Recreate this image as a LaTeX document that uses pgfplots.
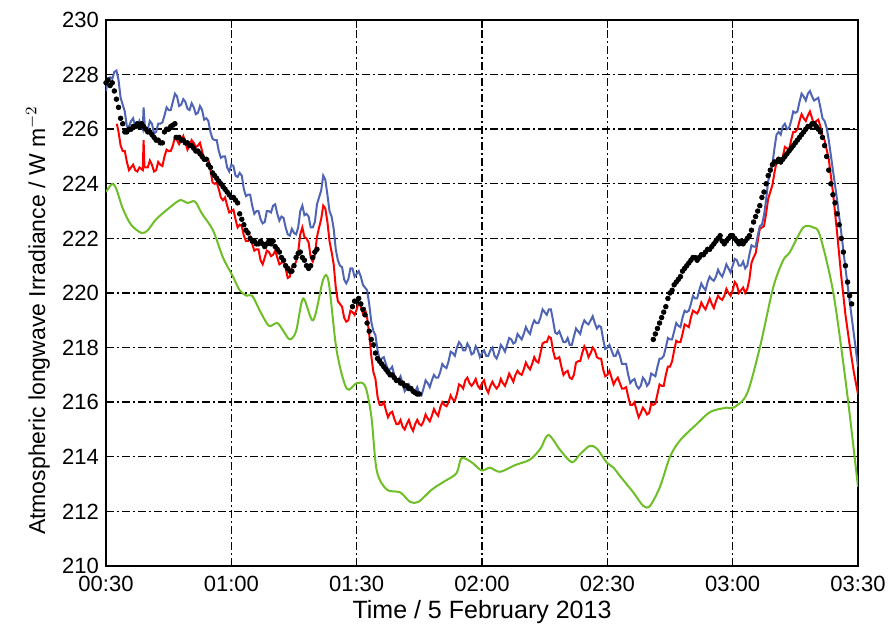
\documentclass[border=0pt]{standalone}
\usepackage{fontspec}
\setmainfont{Liberation Sans}
\usepackage{pgfplots}
\pgfplotsset{compat=1.18}
\definecolor{cblue}{RGB}{80,100,180}
\definecolor{cred}{RGB}{255,0,0}
\definecolor{cgreen}{RGB}{110,190,40}
\begin{document}
\begin{tikzpicture}
\path[use as bounding box] (-53pt,-33pt) rectangle (392pt,283pt);
\begin{axis}[
  at={(0,0)}, anchor=south west,
  scale only axis, width=376pt, height=273pt,
  xmin=30, xmax=210, ymin=210, ymax=230,
  xtick={30,60,90,120,150,180,210},
  xticklabels={00:30,01:00,01:30,02:00,02:30,03:00,03:30},
  ytick={210,212,...,230},
  tick align=inside,
  major tick length=4pt,
  grid=major,
  major grid style={black, line width=0.7pt, dash pattern=on 4pt off 1.5pt on 1pt off 1.5pt},
  axis line style={black, line width=0.8pt},
  every tick/.style={black, line width=0.6pt},
  /pgf/number format/assume math mode=true,
  /pgf/number format/1000 sep={},
  tick label style={font=\fontsize{11}{13}\selectfont},
  xticklabel style={yshift=-1.5pt},
  xlabel style={font=\fontsize{12.5}{15}\selectfont, at={(axis description cs:0.5,-0.084)}, anchor=center},
  ylabel style={font=\fontsize{11.5}{14}\selectfont, at={(axis description cs:-0.0904,0.45)}, anchor=center},
  xlabel={Time / 5 February 2013},
  ylabel={Atmospheric longwave Irradiance / W m$^{-2}$},
]
% green
\addplot[cgreen, line width=1pt, smooth] coordinates {
(30,223.7)(31.5,224.0)(32.5,223.8)(34,223.1)(36,222.5)(38.5,222.2)(40,222.3)(42,222.7)(45,223.1)(47.7,223.4)(49.5,223.3)(51.3,223.35)(53,222.9)(55.6,222.3)(58,221.3)(60.4,220.6)(62,220.1)(63.7,219.9)(65,219.9)(67,219.3)(69,218.8)(71,218.9)(72.5,218.6)(74,218.3)(75.5,218.6)(77.2,219.8)(79.6,219.0)(82,220.5)(83.3,220.4)(85.2,217.9)(87.6,216.5)(90,216.7)(92,216.6)(93.5,215.5)(94.8,213.5)(97.2,212.8)(100.4,212.7)(102.8,212.35)(104.8,212.35)(108,212.8)(111,213.1)(113.9,213.4)(115.1,213.95)(117.5,213.8)(119.9,213.5)(121.9,213.6)(124.3,213.45)(128,213.7)(131.5,213.9)(134,214.3)(135.9,214.8)(138.7,214.25)(141.5,213.8)(143.5,214.1)(145.8,214.4)(147.5,214.3)(149.8,213.8)(151.5,213.6)(153,213.3)(156.2,212.7)(158.6,212.2)(160.2,212.2)(162.6,212.9)(165,214.0)(167.4,214.6)(171.4,215.2)(174.7,215.65)(178.6,215.8)(180.2,215.8)(183.4,216.3)(186.5,218.0)(189.7,220.2)(192.1,221.2)(193.7,221.5)(196.9,222.4)(199.3,222.4)(200.9,222.1)(204.1,220.0)(207.3,216.45)(210,212.9)
};
% red
\addplot[cred, line width=1pt] coordinates {
(32.6,226.2)(33,225.9)(33.5,225.4)(34,225.2)(34.5,225.2)(35,224.8)(35.5,224.5)(36,224.6)(36.5,224.7)(37,224.5)(37.5,224.45)(38,224.6)(38.8,224.5)(39,225.6)(39.2,224.6)(40,224.6)(40.5,224.85)(41,224.7)(41.5,224.45)(42,224.5)(42.5,224.8)(43,224.7)(43.5,224.65)(44,225.0)(44.5,225.25)(45,225.2)(45.5,225.2)(46,225.4)(46.5,225.7)(47,225.6)(47.5,225.45)(48,225.6)(48.5,225.75)(49,225.5)(49.5,225.25)(50,225.4)(50.5,225.6)(51,225.5)(51.5,225.35)(52,225.4)(52.5,225.5)(53,225.2)(53.5,224.9)(54,224.9)(54.5,224.9)(55,224.5)(55.5,224.05)(56,224.0)(56.5,224.05)(57,223.8)(57.5,223.5)(58,223.4)(58.5,223.5)(59,223.2)(59.5,222.95)(60,223.0)(60.5,223.05)(61,222.7)(61.5,222.4)(62,222.5)(62.5,222.45)(63,222.1)(63.5,221.9)(64,221.9)(64.5,222.05)(65,221.8)(65.5,221.55)(66,221.6)(66.5,221.6)(67,221.2)(67.5,221.05)(68,221.3)(68.5,221.55)(69,221.5)(69.5,221.35)(70,221.4)(70.5,221.55)(71,221.3)(71.5,221.05)(72,221.1)(72.5,221.2)(73,220.9)(73.5,220.55)(74,220.6)(74.5,220.95)(75,221.0)(75.5,221.15)(76,221.5)(76.5,222.15)(77,222.4)(77.5,222.05)(78,222.0)(78.5,221.85)(79,221.3)(79.5,221.15)(80,221.4)(80.5,222.05)(81,222.4)(81.5,222.7)(82,223.2)(82.5,223.1)(83,222.6)(83.5,221.9)(84,221.5)(84.5,221.05)(85,220.2)(85.5,219.7)(86,219.6)(86.5,219.5)(87,219.1)(87.5,218.95)(88,219.0)(88.5,219.35)(89,219.3)(89.5,219.2)(90,219.4)(90.5,219.65)(91,219.5)(91.5,219.25)(92,219.4)(92.5,219.1)(93,218.5)(93.5,217.7)(94,217.1)(94.5,216.85)(95,216.2)(95.5,215.9)(96,215.9)(96.5,216.0)(97,215.7)(97.5,215.45)(98,215.6)(98.5,215.65)(99,215.4)(99.5,215.2)(100,215.2)(100.5,215.35)(101,215.1)(101.5,215.0)(102,215.2)(102.5,215.35)(103,215.1)(103.5,214.95)(104,215.2)(104.5,215.35)(105,215.2)(105.5,215.15)(106,215.3)(106.5,215.55)(107,215.4)(107.5,215.3)(108,215.5)(108.5,215.75)(109,215.6)(109.5,215.5)(110,215.8)(110.5,216.0)(111,215.9)(111.5,215.85)(112,216.0)(112.5,216.25)(113,216.1)(113.5,216.05)(114,216.3)(114.5,216.65)(115,216.6)(115.5,216.5)(116,216.8)(116.5,216.9)(117,216.7)(117.5,216.6)(118,216.7)(118.5,216.85)(119,216.6)(119.5,216.5)(120,216.7)(120.5,216.8)(121,216.5)(121.5,216.35)(122,216.6)(122.5,216.75)(123,216.6)(123.5,216.5)(124,216.6)(124.5,216.85)(125,216.7)(125.5,216.6)(126,216.8)(126.5,217.05)(127,216.9)(127.5,216.75)(128,217.0)(128.5,217.15)(129,217.05)(129.5,217.0)(130,217.2)(130.5,217.45)(131,217.3)(131.5,217.2)(132,217.4)(132.5,217.65)(133,217.5)(133.5,217.45)(134,217.8)(134.5,218.15)(135,218.2)(135.5,218.2)(136,218.4)(136.5,218.35)(137,217.9)(137.5,217.6)(138,217.6)(138.5,217.65)(139,217.3)(139.5,217.0)(140,217.1)(140.5,217.15)(141,216.9)(141.5,216.85)(142,217.0)(142.5,217.45)(143,217.5)(143.5,217.5)(144,217.8)(144.5,218.05)(145,217.9)(145.5,217.65)(146,217.8)(146.5,218.0)(147,217.9)(147.5,217.65)(148,217.6)(148.5,217.6)(149,217.2)(149.5,216.95)(150,217.0)(150.5,217.15)(151,216.9)(151.5,216.65)(152,216.8)(152.5,216.9)(153,216.7)(153.5,216.5)(154,216.5)(154.5,216.55)(155,216.2)(155.5,215.9)(156,215.9)(156.5,216.0)(157,215.7)(157.5,215.45)(158,215.6)(158.5,215.8)(159,215.7)(159.5,215.55)(160,215.6)(160.5,215.95)(161,215.9)(161.5,215.95)(162,216.3)(162.5,216.65)(163,216.6)(163.5,216.6)(164,217.0)(164.5,217.3)(165,217.3)(165.5,217.5)(166,217.9)(166.5,218.25)(167,218.2)(167.5,218.2)(168,218.5)(168.5,218.85)(169,218.8)(169.5,218.75)(170,219.1)(170.5,219.35)(171,219.3)(171.5,219.25)(172,219.4)(172.5,219.65)(173,219.5)(173.5,219.4)(174,219.6)(174.5,219.8)(175,219.6)(175.5,219.45)(176,219.7)(176.5,219.9)(177,219.8)(177.5,219.75)(178,219.9)(178.5,220.15)(179,220.0)(179.5,219.9)(180,220.1)(180.5,220.4)(181,220.3)(181.5,220.0)(182,220.1)(182.5,220.2)(183,220.0)(183.5,220.15)(184,220.5)(184.5,221.1)(185,221.3)(185.5,221.45)(186,221.9)(186.5,222.35)(187,222.4)(187.5,222.45)(188,222.9)(188.5,223.45)(189,223.7)(189.5,223.95)(190,224.4)(190.5,224.8)(191,224.8)(191.5,224.75)(192,225.0)(192.5,225.35)(193,225.3)(193.5,225.25)(194,225.6)(194.5,225.9)(195,225.9)(195.5,226.0)(196,226.3)(196.5,226.55)(197,226.4)(197.5,226.3)(198,226.5)(198.5,226.65)(199,226.4)(199.5,226.15)(200,226.3)(200.5,226.35)(201,226.1)(201.5,225.75)(202,225.6)(203,224.9)(204,223.7)(205,222.2)(206,220.6)(207,219.2)(208,218.1)(209,217.1)(210,216.3)
};
% blue
\addplot[cblue, line width=1pt] coordinates {
(30,227.4)(30.5,227.85)(31,227.9)(31.5,227.85)(32,228.1)(32.5,228.15)(33,227.8)(33.5,227.15)(34,226.9)(34.5,226.65)(35,226.1)(35.5,226.1)(36,226.3)(36.5,226.4)(37,226.1)(37.5,226.05)(38,226.3)(38.8,226.0)(39,226.8)(39.3,226.1)(40,226.0)(40.5,226.3)(41,226.2)(41.5,225.85)(42,225.9)(42.5,226.2)(43,226.2)(43.5,226.25)(44,226.5)(44.5,226.8)(45,226.7)(45.5,226.7)(46,227.0)(46.5,227.3)(47,227.2)(47.5,226.85)(48,226.9)(48.5,227.1)(49,227.0)(49.5,226.75)(50,226.7)(50.5,226.95)(51,226.8)(51.5,226.55)(52,226.6)(52.5,226.85)(53,226.7)(53.5,226.35)(54,226.4)(54.5,226.3)(55,225.9)(55.5,225.65)(56,225.6)(56.5,225.6)(57,225.2)(57.5,224.95)(58,225.0)(58.5,225.0)(59,224.6)(59.5,224.45)(60,224.7)(60.5,224.65)(61,224.3)(61.5,224.25)(62,224.4)(62.5,224.3)(63,223.8)(63.5,223.55)(64,223.6)(64.5,223.6)(65,223.2)(65.5,222.9)(66,223.0)(66.5,223.0)(67,222.7)(67.5,222.55)(68,222.6)(68.5,223.0)(69,223.0)(69.5,222.95)(70,223.2)(70.5,223.25)(71,222.9)(71.5,222.65)(72,222.8)(72.5,222.75)(73,222.4)(73.5,222.15)(74,222.1)(74.5,222.35)(75,222.2)(75.5,222.15)(76,222.4)(76.5,223.0)(77,223.2)(77.5,222.85)(78,222.9)(78.5,222.8)(79,222.4)(79.5,222.4)(80,222.6)(80.5,223.25)(81,223.5)(81.5,223.75)(82,224.3)(82.5,224.15)(83,223.6)(83.5,223.0)(84,222.8)(84.5,222.35)(85,221.6)(85.5,221.2)(86,221.0)(86.5,220.95)(87,220.5)(87.5,220.35)(88,220.5)(88.5,220.9)(89,220.9)(89.5,220.6)(90,220.7)(90.5,220.8)(91,220.6)(91.5,220.3)(92,220.2)(92.5,220.1)(93,219.6)(93.5,218.95)(94,218.6)(94.5,218.45)(95,217.9)(95.5,217.55)(96,217.6)(96.5,217.65)(97,217.4)(97.5,217.2)(98,217.2)(98.5,217.3)(99,217.0)(99.5,216.75)(100,216.8)(100.5,216.95)(101,216.7)(101.5,216.4)(102,216.5)(102.5,216.65)(103,216.5)(103.5,216.35)(104,216.4)(104.5,216.55)(105,216.3)(105.5,216.25)(106,216.5)(106.5,216.8)(107,216.7)(107.5,216.55)(108,216.8)(108.5,217.0)(109,216.9)(109.5,216.9)(110,217.1)(110.5,217.4)(111,217.3)(111.5,217.25)(112,217.5)(112.5,217.85)(113,217.8)(113.5,217.7)(114,218.0)(114.5,218.2)(115,218.1)(115.5,217.9)(116,217.9)(116.5,218.15)(117,218.0)(117.5,217.75)(118,217.8)(118.5,218.05)(119,217.9)(119.5,217.65)(120,217.8)(120.5,217.9)(121,217.7)(121.5,217.7)(122,217.9)(122.5,218.0)(123,217.7)(123.5,217.6)(124,217.8)(124.5,218.1)(125,218.0)(125.5,217.85)(126,218.1)(126.5,218.35)(127,218.3)(127.5,218.15)(128,218.2)(128.5,218.5)(129,218.4)(129.5,218.3)(130,218.5)(130.5,218.75)(131,218.6)(131.5,218.5)(132,218.8)(132.5,219.0)(133,218.9)(133.5,218.9)(134,219.1)(134.5,219.4)(135,219.3)(135.5,219.2)(136,219.4)(136.5,219.4)(137,219.0)(137.5,218.55)(138,218.5)(138.5,218.6)(139,218.4)(139.5,218.2)(140,218.2)(140.5,218.35)(141,218.1)(141.5,218.1)(142,218.4)(142.5,218.7)(143,218.6)(143.5,218.5)(144,218.8)(144.5,219.0)(145,218.9)(145.5,218.85)(146,219.0)(146.5,219.15)(147,218.9)(147.5,218.7)(148,218.8)(148.5,218.75)(149,218.3)(149.5,217.95)(150,218.0)(150.5,218.1)(151,217.9)(151.5,217.7)(152,217.7)(152.5,217.9)(153,217.7)(153.5,217.4)(154,217.4)(154.5,217.4)(155,217.0)(155.5,216.7)(156,216.8)(156.5,216.85)(157,216.6)(157.5,216.5)(158,216.6)(158.5,216.9)(159,216.8)(159.5,216.6)(160,216.7)(160.5,217.05)(161,217.0)(161.5,216.95)(162,217.3)(162.5,217.6)(163,217.6)(163.5,217.7)(164,218.0)(164.5,218.35)(165,218.3)(165.5,218.3)(166,218.6)(166.5,218.9)(167,218.8)(167.5,218.75)(168,219.1)(168.5,219.35)(169,219.3)(169.5,219.35)(170,219.6)(170.5,219.9)(171,219.8)(171.5,219.8)(172,220.1)(172.5,220.35)(173,220.2)(173.5,220.1)(174,220.4)(174.5,220.6)(175,220.5)(175.5,220.45)(176,220.6)(176.5,220.85)(177,220.7)(177.5,220.6)(178,220.8)(178.5,221.05)(179,220.9)(179.5,220.75)(180,221.0)(180.5,221.25)(181,221.2)(181.5,221.0)(182,221.0)(182.5,221.15)(183,220.9)(183.5,221.0)(184,221.4)(184.5,221.75)(185,221.7)(185.5,221.7)(186,222.1)(186.5,222.45)(187,222.5)(187.5,222.85)(188,223.4)(188.5,224.1)(189,224.4)(189.5,224.7)(190,225.3)(190.5,225.8)(191,225.9)(191.5,225.8)(192,226.1)(192.5,226.2)(193,226.0)(193.5,226.05)(194,226.3)(194.5,226.65)(195,226.6)(195.5,226.65)(196,227.0)(196.5,227.3)(197,227.2)(197.5,227.05)(198,227.3)(198.5,227.4)(199,227.2)(199.5,227.05)(200,227.1)(200.5,227.15)(201,226.8)(201.5,226.4)(202,226.3)(202.5,226.05)(203,225.6)(204,224.5)(205,223.4)(206,222.2)(207,220.9)(208,219.7)(209,218.5)(210,217.3)
};
% black dots
\addplot[only marks, mark=*, mark size=1.15pt, black] coordinates {
(30,227.7)(30.5,227.8)(31,227.6)(31.5,227.7)(32,227.4)(32.5,227.1)(33,226.8)(33.5,226.4)(34,226.2)(34.5,225.9)(35,225.9)(35.5,226.0)(36,226.0)(36.5,226.1)(37,226.1)(37.5,226.2)(38,226.1)(38.5,226.2)(39,226.1)(39.5,226.0)(40,225.9)(40.5,225.9)(41,225.8)(41.5,225.7)(42,225.6)(42.5,225.6)(43,225.5)(43.5,225.5)
(44,225.9)(44.5,226.0)(45,226.0)(45.5,226.1)(46,226.15)(46.5,226.2)
(46.8,225.7)(47.5,225.7)(48,225.6)(48.5,225.6)(49,225.5)(49.5,225.5)(50,225.4)(50.5,225.4)(51,225.3)(51.5,225.2)(52,225.2)(52.5,225.1)(53,225.0)(53.5,224.9)(54,224.9)(54.5,224.7)(55,224.6)(55.5,224.4)(56,224.3)(56.5,224.2)(57,224.1)(57.5,224.0)(58,223.9)(58.5,223.8)(59,223.7)(59.5,223.6)(60,223.5)(60.5,223.5)(61,223.4)(61.5,223.3)
(62,222.9)(62.5,222.7)(63,222.5)(63.5,222.3)(64,222.2)(64.5,222.0)(65,221.9)(65.5,221.9)(66,221.8)(66.5,221.8)(67,221.9)(67.5,221.8)(68,221.7)(68.5,221.8)(69,221.9)(69.5,221.8)(70,221.9)(70.5,221.7)(71,221.6)(71.5,221.5)(72,221.3)(72.5,221.2)(73,221.0)(73.5,220.9)(74,220.8)(74.5,220.8)(75,221.0)(75.5,221.3)(76,221.45)(76.5,221.5)(77,221.3)(77.5,221.2)(78,221.0)(78.5,220.9)(79,221.0)(79.5,221.3)(80,221.5)(80.5,221.6)
(89,219.5)(89.5,219.7)(90,219.7)(90.5,219.8)(91,219.6)(91.5,219.4)(92,219.2)(92.5,218.9)(93,218.6)(93.5,218.3)(94,218.1)(94.5,217.8)(95,217.6)(95.5,217.5)(96,217.4)(96.5,217.3)(97,217.2)(97.5,217.1)(98,217.0)(98.5,217.0)(99,216.9)(99.5,216.8)(100,216.8)(100.5,216.7)(101,216.7)(101.5,216.6)(102,216.6)(102.5,216.5)(103,216.5)(103.5,216.4)(104,216.35)(104.5,216.3)(105,216.3)
(161,218.3)(161.5,218.5)(162,218.7)(162.5,218.9)(163,219.1)(163.5,219.3)(164,219.5)(164.5,219.8)(165,220.0)(165.5,220.1)(166,220.3)(166.5,220.4)(167,220.5)(167.5,220.6)(168,220.8)(168.5,220.9)(169,221.0)(169.5,221.1)(170,221.2)(170.5,221.3)(171,221.3)(171.5,221.2)(172,221.3)(172.5,221.4)(173,221.4)(173.5,221.5)(174,221.6)(174.5,221.6)(175,221.7)(175.5,221.8)(176,221.9)(176.5,222.0)(177,222.1)(177.5,221.9)(178,221.8)(178.5,221.9)(179,222.0)(179.5,222.1)(180,222.1)(180.5,222.0)(181,221.9)(181.5,221.8)(182,221.9)(182.5,221.8)(183,221.9)(183.5,222.0)(184,222.1)(184.5,222.3)(185,222.6)(185.5,222.8)(186,223.0)(186.5,223.2)(187,223.5)(187.5,223.7)(188,224.0)(188.5,224.3)(189,224.5)(189.5,224.7)(190,224.8)(190.5,224.8)(191,224.9)(191.5,224.8)(192,224.9)(192.5,225.0)(193,225.1)(193.5,225.2)(194,225.3)(194.5,225.4)(195,225.5)(195.5,225.6)(196,225.7)(196.5,225.8)(197,225.9)(197.5,226.0)(198,226.1)(198.5,226.1)(199,226.2)(199.5,226.2)(200,226.1)(200.5,226.0)(201,225.9)(201.5,225.7)(202,225.4)(202.5,225.0)(203,224.5)(203.5,224.0)(204,223.6)(204.5,223.3)(205,222.9)(205.5,222.5)(206,222.0)(206.5,221.5)(207,221.0)(207.5,220.4)(208,219.9)(208.5,219.6)
};
\end{axis}
\end{tikzpicture}
\end{document}
